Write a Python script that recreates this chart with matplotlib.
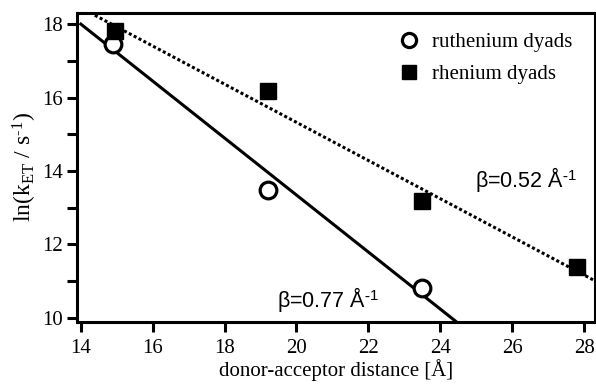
import matplotlib
matplotlib.use('Agg')
import matplotlib.pyplot as plt
import numpy as np

plt.rcParams['font.family'] = ['Liberation Serif', 'DejaVu Serif']
plt.rcParams['mathtext.fontset'] = 'custom'
plt.rcParams['mathtext.rm'] = 'Liberation Serif'
plt.rcParams['mathtext.it'] = 'Liberation Serif'
plt.rcParams['mathtext.sf'] = 'Liberation Sans'

# data
ru_dist = [14.9, 19.2, 23.5]
ru_lnk = [17.47, 13.48, 10.82]
re_dist = [14.95, 19.2, 23.5, 27.8]
re_lnk = [17.82, 16.18, 13.18, 11.39]

# fit lines (slope = -beta)
ru_fit_x = [14.0, 24.45]
ru_fit_y = [18.0, 9.89]
re_fit_x = [14.39, 28.3]
re_fit_y = [18.24, 11.01]

fig = plt.figure(figsize=(5.96, 3.85), dpi=100)
ax = fig.add_axes([0.129, 0.164, 0.869, 0.803])

ax.plot(ru_fit_x, ru_fit_y, '-', color='black', lw=2.2)
ax.plot(re_fit_x, re_fit_y, color='black', lw=2.2, linestyle=(0, (1, 0.8)))

ax.plot(ru_dist, ru_lnk, 'o', ms=12, mfc='white', mec='black', mew=2.3,
        label='ruthenium dyads', zorder=5)
ax.plot(re_dist, re_lnk, 's', ms=12, mfc='black', mec='black',
        label='rhenium dyads', zorder=5)

ax.set_xlim(13.89, 28.3)
ax.set_ylim(9.89, 18.31)
ax.set_xticks(np.arange(14, 29, 2))
ax.set_yticks(np.arange(10, 19, 1))
ax.set_yticklabels(['10', '', '12', '', '14', '', '16', '', '18'])

for s in ax.spines.values():
    s.set_linewidth(2.2)
ax.tick_params(direction='out', length=7, width=2.2, labelsize=15)
ax.tick_params(axis='x', pad=5)
ax.tick_params(axis='y', pad=3)

ax.set_xlabel('donor-acceptor distance [Å]', fontsize=15, labelpad=1)
ax.set_ylabel(r'ln(k$_{\mathrm{ET}}$ / s$^{\mathrm{\text{-}1}}$)', fontsize=17, labelpad=2)

ax.text(24.96, 13.56, r'β=0.52 Å$^{\mathsf{\text{-}1}}$', fontsize=15.5,
        family=['Liberation Sans', 'DejaVu Sans'], va='baseline')
ax.text(19.45, 10.30, r'β=0.77 Å$^{\mathsf{\text{-}1}}$', fontsize=15.5,
        family=['Liberation Sans', 'DejaVu Sans'], va='baseline')

ax.legend(loc='upper left', bbox_to_anchor=(0.622, 0.936), frameon=False,
          fontsize=15, handletextpad=0.6, labelspacing=0.6, handlelength=1.0,
          borderpad=0, borderaxespad=0, markerscale=0.85)

fig.savefig('out.png', dpi=100)
